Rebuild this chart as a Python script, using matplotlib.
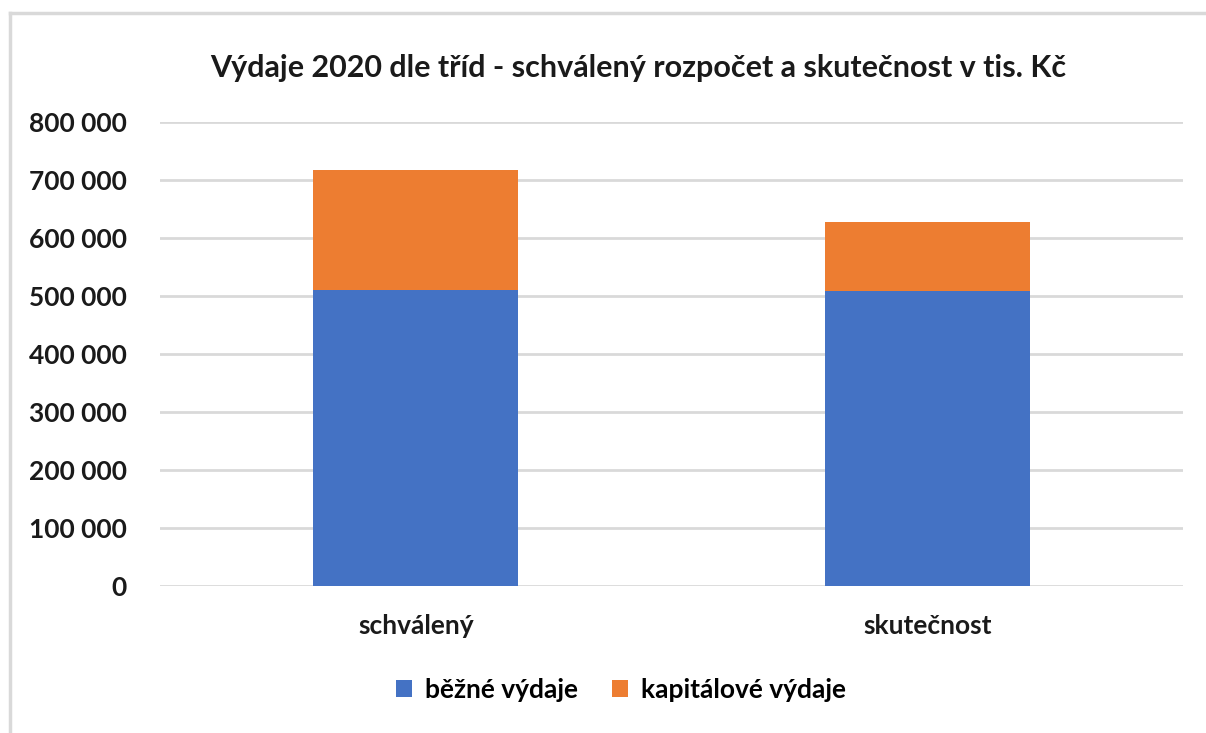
import numpy as np
import matplotlib.pyplot as plt
from matplotlib.lines import Line2D
from matplotlib.ticker import FuncFormatter

kategorie = ["schválený", "skutečnost"]
bezne = [511000, 508000]
kapitalove = [206500, 120000]
y_ticks = [0, 100000, 200000, 300000, 400000, 500000, 600000, 700000, 800000]

modra = "#4472C4"
oranzova = "#ED7D31"

plt.rcParams["font.family"] = ["Lato", "DejaVu Sans"]

W, H = 1206, 733
fig = plt.figure(figsize=(W / 100, H / 100), dpi=100)
ax = fig.add_axes([160 / W, 1 - 586 / H, (1183 - 160) / W, (586 - 122) / H])

x = np.arange(len(kategorie))
ax.bar(x, bezne, width=0.4, color=modra, label="běžné výdaje", zorder=3)
ax.bar(x, kapitalove, width=0.4, bottom=bezne, color=oranzova, label="kapitálové výdaje", zorder=3)

ax.set_xlim(-0.5, 1.5)
ax.set_ylim(0, 800000)
ax.set_yticks(y_ticks)
ax.yaxis.set_major_formatter(FuncFormatter(lambda v, p: f"{int(v):,}".replace(",", " ")))
ax.set_xticks(x)
ax.set_xticklabels(kategorie, fontsize=19, fontweight="bold", color="#1a1a1a")
for t in ax.get_yticklabels():
    t.set_fontsize(19)
    t.set_fontweight("bold")
    t.set_color("#1a1a1a")
ax.tick_params(axis="both", length=0)
ax.tick_params(axis="y", pad=24)
ax.tick_params(axis="x", pad=20)
ax.grid(axis="y", color="#d9d9d9", linewidth=2, zorder=0)
for s in ax.spines.values():
    s.set_visible(False)

fig.text(638 / W, 1 - 68 / H, "Výdaje 2020 dle tříd - schválený rozpočet a skutečnost v tis. Kč",
         ha="center", va="center", fontsize=22, fontweight="bold", color="#1a1a1a")

fig.legend(loc="center", bbox_to_anchor=(621 / W, 1 - 690 / H), ncol=2, frameon=False,
           prop={"weight": "bold", "size": 19}, handlelength=0.6, handleheight=0.6,
           handletextpad=0.5, columnspacing=1.3)

# ramecek grafu
fig.add_artist(Line2D([10 / W, 1], [1 - 13 / H, 1 - 13 / H], color="#d9d9d9", linewidth=2.5))
fig.add_artist(Line2D([10 / W, 10 / W], [0, 1 - 13 / H], color="#d9d9d9", linewidth=2.5))

fig.savefig("out.png", dpi=100)
